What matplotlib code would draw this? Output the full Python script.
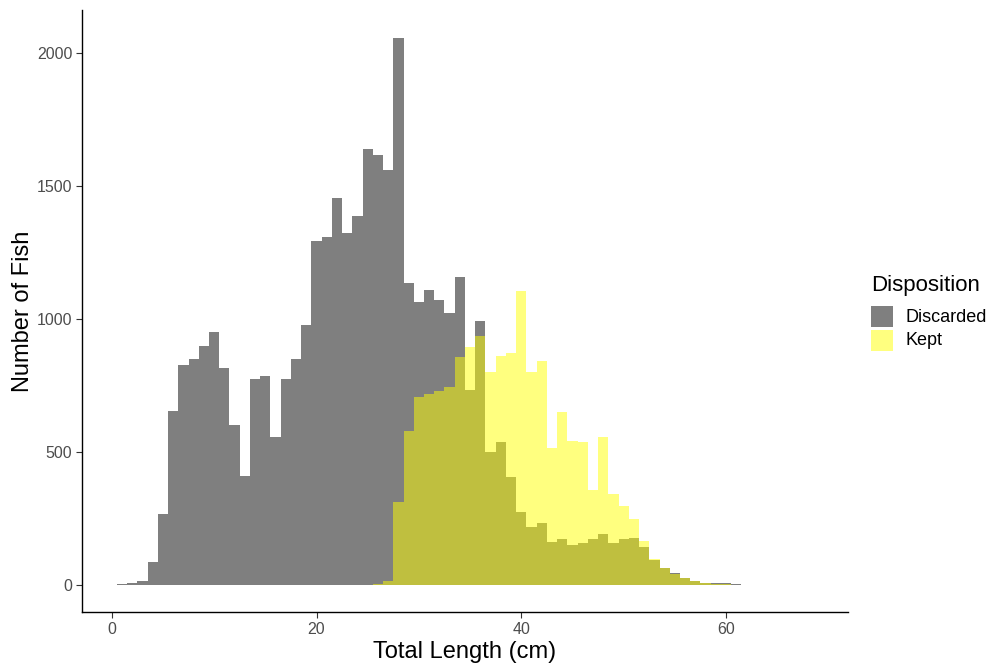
import numpy as np
import matplotlib.pyplot as plt
from matplotlib.patches import Rectangle

plt.rcParams['font.family'] = ['Liberation Sans', 'DejaVu Sans']

# 1 cm bins, centred on whole centimetres
discarded_len = np.arange(1, 62)
discarded_n = [3, 7, 12, 83, 264, 653, 826, 849, 898, 951,
               815, 600, 408, 774, 785, 555, 774, 849, 974, 1290,
               1305, 1453, 1321, 1385, 1636, 1615, 1560, 2055, 1135, 1064,
               1106, 1070, 1019, 1155, 730, 992, 498, 536, 405, 272,
               217, 230, 160, 170, 150, 158, 170, 189, 158, 170,
               175, 140, 94, 64, 45, 26, 12, 6, 4, 5, 3]

kept_len = np.arange(26, 61)
kept_n = [3, 15, 310, 577, 706, 717, 728, 743, 855, 894,
          936, 800, 860, 870, 1105, 800, 840, 512, 649, 538,
          536, 355, 555, 342, 295, 245, 165, 97, 62, 40,
          25, 14, 7, 3, 1]

groups = ['Discarded', 'Kept']
fills = ['black', 'yellow']

W, H = 987, 663
fig = plt.figure(figsize=(W / 100, H / 100), dpi=100)
ax = fig.add_axes([0.0831, 0.077, 0.776, 0.908])

for lens, counts, col in [(discarded_len, discarded_n, fills[0]), (kept_len, kept_n, fills[1])]:
    edges = np.append(lens - 0.5, lens[-1] + 0.5)
    ax.stairs(counts, edges, fill=True, color=col, alpha=0.5, linewidth=0)

ax.set_xlim(-2.9, 71.9)
ax.set_ylim(-103, 2160)
ax.set_xticks([0, 20, 40, 60])
ax.set_yticks([0, 500, 1000, 1500, 2000])

for s in ['top', 'right']:
    ax.spines[s].set_visible(False)
for s in ['left', 'bottom']:
    ax.spines[s].set_linewidth(1.0)
    ax.spines[s].set_color('black')
ax.tick_params(length=4, width=0.8, color='#333333', labelcolor='#4D4D4D',
               labelsize=11.5, pad=3)

ax.set_xlabel('Total Length (cm)', fontsize=17, labelpad=3)
ax.set_ylabel('Number of Fish', fontsize=17, labelpad=2)

# legend (ggplot style, keys stacked under the title)
fig.text(871 / W, 1 - 286 / H, 'Disposition', fontsize=16, ha='left', va='center')
for i, (name, col) in enumerate(zip(groups, fills)):
    top = 306 + i * 24
    fig.patches.append(Rectangle((871 / W, 1 - (top + 21) / H), 22 / W, 21 / H,
                                 transform=fig.transFigure, facecolor=col,
                                 alpha=0.5, edgecolor='none'))
    fig.text(906 / W, 1 - (top + 11) / H, name, fontsize=13, ha='left', va='center')

fig.savefig('out.png', dpi=100)
